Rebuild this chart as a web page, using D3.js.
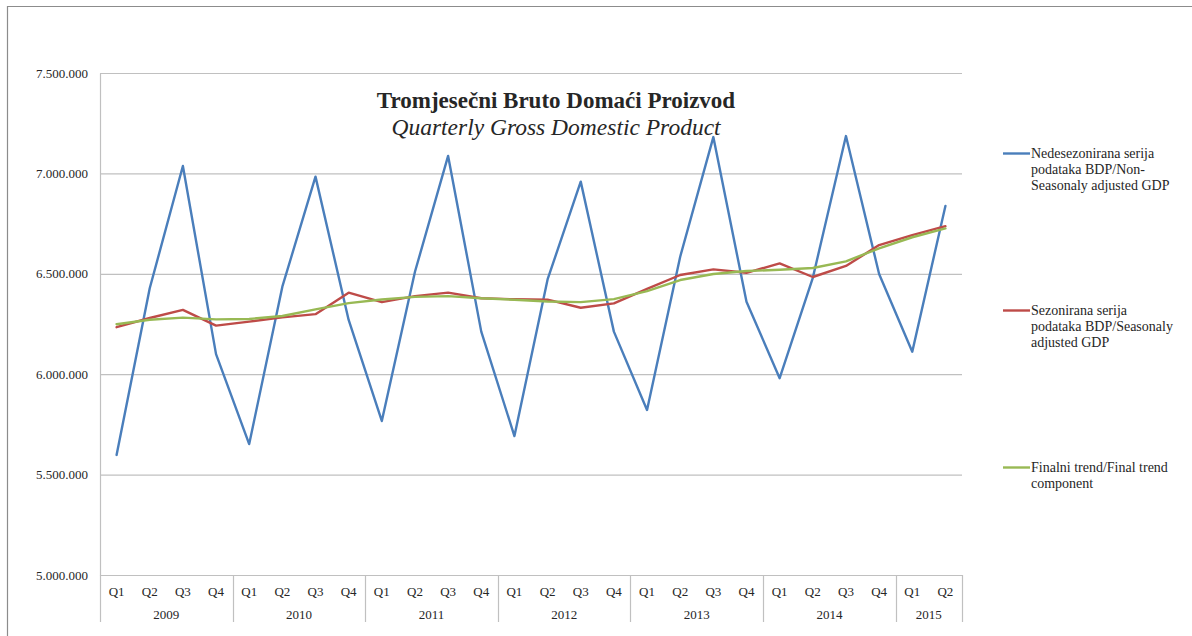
<!DOCTYPE html>
<html>
<head>
<meta charset="utf-8">
<script src="https://cdn.jsdelivr.net/npm/d3@7"></script>
<style>
  html, body { margin: 0; padding: 0; background: #fff; }
  svg { display: block; }
  text { font-family: "Liberation Serif", "Times New Roman", serif; fill: #262626; }
</style>
</head>
<body>
<svg id="chart" width="1192" height="636"></svg>
<script>
// ---- data ----
const years = ["2009", "2010", "2011", "2012", "2013", "2014", "2015"];
const quartersPerYear = [4, 4, 4, 4, 4, 4, 2];
const quarterLabels = ["Q1", "Q2", "Q3", "Q4"];

const nonSeasonal = [5598000, 6428000, 7037000, 6100000, 5652000, 6436000, 6984000, 6270000,
  5767000, 6510000, 7087000, 6212000, 5692000, 6472000, 6959000, 6212000,
  5822000, 6585000, 7181000, 6361000, 5980000, 6480000, 7186000, 6499000,
  6112000, 6838000];
const seasonal = [6234000, 6280000, 6320000, 6242000, 6262000, 6283000, 6299000, 6406000,
  6359000, 6389000, 6406000, 6378000, 6373000, 6371000, 6331000, 6353000,
  6425000, 6494000, 6522000, 6505000, 6552000, 6484000, 6539000, 6643000,
  6693000, 6737000];
const trend = [6249000, 6271000, 6282000, 6273000, 6275000, 6290000, 6323000, 6354000,
  6372000, 6385000, 6389000, 6378000, 6371000, 6362000, 6359000, 6374000,
  6414000, 6469000, 6499000, 6514000, 6520000, 6529000, 6562000, 6627000,
  6682000, 6726000];

const yTicks = [5000000, 5500000, 6000000, 6500000, 7000000, 7500000];

const seriesNames = [
  ["Nedesezonirana serija", "podataka BDP/Non-", "Seasonaly adjusted GDP"],
  ["Sezonirana serija", "podataka BDP/Seasonaly", "adjusted GDP"],
  ["Finalni trend/Final trend", "component"]
];
const seriesColors = ["#4a7ebb", "#be4b48", "#98b954"];
const titleText = "Tromjesečni Bruto Domaći Proizvod";
const subtitleText = "Quarterly Gross Domestic Product";

(function () {
// ---- build categories ----
const categories = [];
years.forEach((yr, yi) => {
  for (let q = 0; q < quartersPerYear[yi]; q++) categories.push({ year: yr, q: quarterLabels[q] });
});

const svg = d3.select("#chart");
const pLeft = 100, pRight = 962, pTop = 73, pBottom = 575;

// outer border (left & top)
svg.append("path").attr("d", "M7.5,636 V6.5 H1192")
  .attr("fill", "none").attr("stroke", "#8c8c8c").attr("stroke-width", 1.2);

const x = d3.scaleBand().domain(d3.range(categories.length)).range([pLeft, pRight]).padding(0);
const xc = i => x(i) + x.bandwidth() / 2;
const y = d3.scaleLinear().domain([5000000, 7500000]).range([pBottom, pTop]);

const loc = d3.formatLocale({ decimal: ",", thousands: ".", grouping: [3], currency: ["", ""] });
const fmt = loc.format(",d");

// gridlines
svg.append("g").selectAll("line").data(yTicks).join("line")
  .attr("x1", pLeft).attr("x2", pRight)
  .attr("y1", d => y(d) + 0.5).attr("y2", d => y(d) + 0.5)
  .attr("stroke", "#c0c0c0").attr("stroke-width", 1.2);

// y axis
const yAxis = d3.axisLeft(y).tickValues(yTicks).tickFormat(fmt).tickSize(0).tickPadding(12);
const gy = svg.append("g").attr("transform", `translate(${pLeft},0)`).call(yAxis);
gy.attr("font-family", null);
gy.select(".domain").attr("stroke", "#c0c0c0").attr("stroke-width", 1.2);
gy.selectAll("text").style("font-family", '"Liberation Serif", serif').style("font-size", "13px").attr("fill", "#262626");

// x axis: quarters
const xAxis = d3.axisBottom(x).tickFormat(i => categories[i].q).tickSize(0).tickPadding(12);
const gx = svg.append("g").attr("transform", `translate(0,${pBottom})`).call(xAxis);
gx.attr("font-family", null);
gx.select(".domain").remove();
gx.selectAll("text").style("font-family", '"Liberation Serif", serif').style("font-size", "13px").attr("fill", "#262626");

// year separators and labels
let start = 0;
const seps = [pLeft];
const yearLabels = [];
years.forEach((yr, yi) => {
  const n = quartersPerYear[yi];
  const x0 = x(start), x1 = x(start + n - 1) + x.bandwidth();
  yearLabels.push({ yr, cx: (x0 + x1) / 2 });
  seps.push(x1);
  start += n;
});
svg.append("g").selectAll("line").data(seps).join("line")
  .attr("x1", d => Math.round(d) + 0.5).attr("x2", d => Math.round(d) + 0.5)
  .attr("y1", pBottom).attr("y2", 622)
  .attr("stroke", "#c0c0c0").attr("stroke-width", 1.2);
svg.append("line").attr("x1", pLeft).attr("x2", pRight).attr("y1", pBottom + 0.5).attr("y2", pBottom + 0.5)
  .attr("stroke", "#c0c0c0").attr("stroke-width", 1.2);
svg.append("g").selectAll("text").data(yearLabels).join("text")
  .attr("x", d => d.cx).attr("y", 619).attr("text-anchor", "middle")
  .style("font-size", "13px").text(d => d.yr);

// lines
const line = d3.line().x((d, i) => xc(i)).y(d => y(d));
[nonSeasonal, seasonal, trend].forEach((s, k) => {
  svg.append("path").datum(s).attr("d", line)
    .attr("fill", "none").attr("stroke", seriesColors[k]).attr("stroke-width", 2.4)
    .attr("stroke-linejoin", "round").attr("stroke-linecap", "round");
});

// title
svg.append("text").attr("x", 556).attr("y", 108).attr("text-anchor", "middle")
  .style("font-size", "23px").style("font-weight", "bold").attr("fill", "#000").text(titleText);
svg.append("text").attr("x", 556).attr("y", 135).attr("text-anchor", "middle")
  .style("font-size", "23.5px").style("font-style", "italic").attr("fill", "#000").text(subtitleText);

// legend
const legendY = [153.5, 310.5, 467.5];
seriesNames.forEach((lines, k) => {
  const g = svg.append("g");
  g.append("line").attr("x1", 1003).attr("x2", 1030).attr("y1", legendY[k]).attr("y2", legendY[k])
    .attr("stroke", seriesColors[k]).attr("stroke-width", 2.4);
  lines.forEach((t, j) => {
    g.append("text").attr("x", 1031).attr("y", legendY[k] + 4.5 + j * 16)
      .style("font-size", "14px").text(t);
  });
});
})();
</script>
</body>
</html>
